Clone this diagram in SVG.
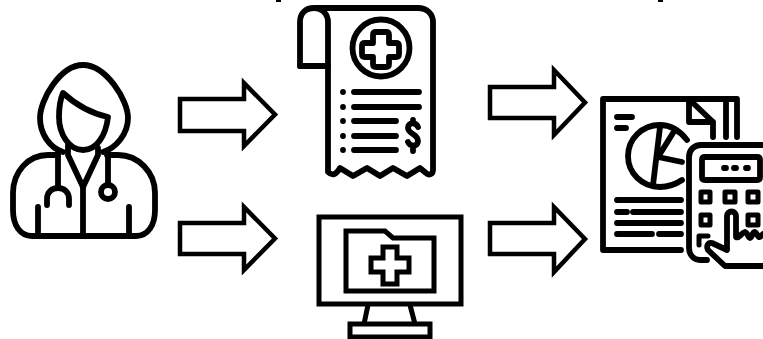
<svg xmlns="http://www.w3.org/2000/svg" width="763" height="339" viewBox="0 0 763 339">
<style>
.i{fill:none;stroke:#000;stroke-width:5.800;stroke-linecap:round;stroke-linejoin:round}
.m{fill:none;stroke:#000;stroke-width:5;stroke-linejoin:miter}
.a{fill:#fff;stroke:#000;stroke-width:4.500;stroke-linejoin:miter}
.b{stroke-width:5;stroke-linejoin:round}
</style>
<rect width="763" height="339" fill="#fff"/>
<g id="doctor" class="i">
<path d="M63 152C50 148 40 134 40 118C40 100 60 65 83 65C106 65 128 100 128 118C128 134 116 148 103 152"/>
<path d="M63 93C75 104 90 113 108 117C106 135 97 150 83 150C69 150 59 134 59 117C59 107 60 100 63 93Z"/>
<path d="M68 145L68 155L83 187L98 155L98 148"/>
<path d="M58 155L48 155C28 155 13 172 13 193L13 210C13 225 20 236 32 236L136 236C148 236 155 225 155 210L155 193C155 172 138 155 118 155L107 155"/>
<path d="M83 187L83 236M58 155L58 187M108 157L108 185M38 207L38 235M129 207L129 235"/>
<path d="M47 205L47 199C47 192 52 188 58 188C64 188 69 192 69 199L69 205"/>
<circle cx="108" cy="192" r="7"/>
</g>
<g id="receipt" class="i">
<path d="M300 66L300 22C300 13 306 8 314 8C322 8 328 14 328 22L328 172C332 176 336 175 340 168L353 176L367 168L380 176L393 168L407 176L420 168L426 173C429 176 433 174 433 170L433 22C433 14 427 8 418 8L314 8"/>
<path d="M300 66L328 66"/>
<circle cx="381" cy="48" r="28.500"/>
<path d="M373 35C373 33 374 32 376 32L386 32C388 32 389 33 389 35L389 43L396 43C398 43 399 44 399 46L399 54C399 56 398 57 396 57L389 57L389 64C389 66 388 67 386 67L376 67C374 67 373 66 373 64L373 57L365 57C363 57 362 56 362 54L362 46C362 44 363 43 365 43L373 43Z"/>
<path d="M354 92L419 92M354 107L419 107M354 121L396 121M354 136L396 136M354 150L396 150"/>
<path d="M343 92L343 92M343 107L343 107M343 121L343 121M343 136L343 136M343 150L343 150"/>
<path d="M418 127C416 122 408 122 408 128C408 134 418 134 418 141C418 147 410 147 408 142M413 120L413 123M413 147L413 151"/>
</g>
<g id="monitor" class="m">
<path d="M319 217L461 217L461 304L319 304Z"/>
<path d="M346 231L385 231L393 238L434 238L434 291L346 291Z"/>
<path d="M383 247L397 247L397 258L409 258L409 272L397 272L397 284L383 284L383 272L371 272L371 258L383 258Z"/>
<path d="M368 305L364 324M410 305L415 324"/>
<path d="M350 324L430 324L430 337L350 337Z"/>
</g>
<g id="report" class="i">
<path d="M681 250L603 250L603 99L737 99L737 137"/>
<path d="M689 102L689 122L713 122L713 137M692 102L713 122M726 102L726 137"/>
<path d="M617 117L632 117M617 128L626 128"/>
<path d="M687 140C680 131 671 125 660 125C642 125 628 139 628 156C628 173 642 187 660 187C669 187 676 184 682 180"/>
<path d="M660 127L653 185M658 157L673 133M658 157L682 162"/>
<path d="M617 200L681 200M617 212L627 212M633 212L681 212M617 223L681 223M617 234L652 234M659 234L681 234"/>
<path d="M707 260L700 260C694 260 689 255 689 248L689 157C689 150 694 145 701 145L763 145"/>
<path d="M705 157L757 157C759 157 760 158 760 160L760 177C760 179 759 180 757 180L705 180C703 180 702 179 702 177L702 160C702 158 703 157 705 157Z"/>
<path d="M724 168L726 168M734 168L736 168M746 168L748 168"/>
<path class="b" d="M701 192H710V202H701ZM725 192H735V202H725ZM748 192H758V202H748ZM701 215H710V225H701ZM748 215H758V225H748Z"/>
<path class="b" d="M699 245L699 236L708 236"/>
<path d="M708 250C706 246 708 242 712 243L727 250L727 216C727 210 736 210 736 216L736 237C739 239 741 233 745 232C748 233 748 238 750 238C752 238 752 232 755 232C757 233 758 238 760 237L763 234M708 250L725 266L763 266"/>
</g>
<g id="connectors">
<path class="a" d="M180 99L244 99L244 83L275 114.500L244 146L244 131L180 131Z"/>
<path class="a" d="M180 223L244 223L244 207L275 238.500L244 270L244 254L180 254Z"/>
<path class="a" d="M490 87L554 87L554 70L585 102.500L554 135L554 118L490 118Z"/>
<path class="a" d="M490 223L554 223L554 207L585 239L554 272L554 254L490 254Z"/>
</g>
<g id="marks" fill="#000">
<rect x="276" y="0" width="5" height="2"/>
<rect x="658" y="0" width="5" height="2"/>
</g>
</svg>
